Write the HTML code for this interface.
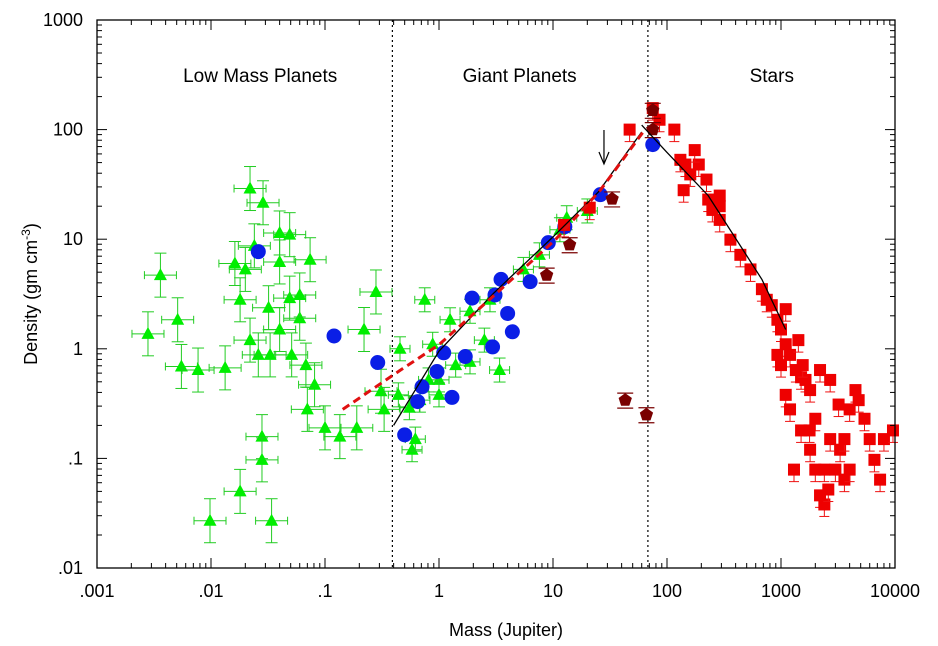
<!DOCTYPE html>
<html><head><meta charset="utf-8">
<style>
html,body{margin:0;padding:0;background:#fff;}
svg{display:block;font-family:"Liberation Sans",Arial,sans-serif;}
</style></head>
<body>
<svg id="chart" width="938" height="646" viewBox="0 0 938 646" xmlns="http://www.w3.org/2000/svg">
<rect x="0" y="0" width="938" height="646" fill="#fff"/>
<g id="grid"></g>
<g id="marks"></g>
<g id="ax"></g>
</svg>
<script>
const xTicks=[0.001,0.01,0.1,1,10,100,1000,10000];
const xTickLabels=[".001",".01",".1","1","10","100","1000","10000"];
const yTicks=[0.01,0.1,1,10,100,1000];
const yTickLabels=[".01",".1","1","10","100","1000"];
const regionLabels=["Low Mass Planets","Giant Planets","Stars"];
const regionLabelMass=[0.027,5.1,830];
const dividerMass=[0.39,68];

const greenMass=[0.0028,0.0036,0.0051,0.0055,0.0098,0.0077,0.0133,0.0162,0.022,0.018,0.028,0.028,0.034,0.0286,0.049,0.040,0.020,0.022,0.032,0.049,0.060,0.040,0.051,0.068,0.074,0.081,0.070,0.100,0.135,0.19,0.22,0.28,0.026,0.018,0.024,0.040,0.060,0.033,0.31,0.33,
0.455,0.44,0.55,0.75,0.88,1.0,1.25,1.87,2.5,2.8,3.4,0.58,0.62,0.68,0.81,1.4,1.0,5.5,7.6,11.5,13.2,20,1.87];
const greenDensity=[1.37,4.7,1.84,0.69,0.027,0.64,0.67,6.0,29,0.050,0.158,0.097,0.027,21.5,11,6.2,5.3,1.2,2.37,2.9,1.9,1.5,0.88,0.71,6.5,0.47,0.28,0.19,0.158,0.19,1.5,3.3,0.88,2.8,8.7,11.4,3.1,0.88,0.41,0.28,
1.0,0.38,0.29,2.8,1.1,0.52,1.84,2.2,1.2,2.8,0.64,0.12,0.15,0.34,0.52,0.71,0.38,5.3,7.2,12.2,15.7,18.1,0.76];

const blueMass=[0.026,0.12,0.29,3.5,3.1,6.3,4.0,4.4,2.95,1.7,1.1,0.96,0.71,0.65,1.3,0.50,1.95,9.1,12.7,26,75];
const blueDensity=[7.7,1.31,0.75,4.3,3.1,4.1,2.1,1.43,1.04,0.85,0.92,0.62,0.45,0.33,0.36,0.164,2.9,9.3,13,25.5,73];

const brownMass=[14,8.8,33,43,66,75,75];
const brownDensity=[8.9,4.7,23.3,0.34,0.25,100,150];

const redMass=[47,75,86,116,131,145,160,140,190,222,230,250,290,290,360,440,540,680,750,830,930,1000,1100,1200,1350,1500,1640,930,1000,1100,1200,1500,1800,2000,2200,2400,2600,3000,3300,3600,4000,4500,4800,5400,6000,6600,7400,8000,9600,1800,2200,2700,1300,2700,2000,1550,3200,1780,2400,4000,3600,1100,1420,290,175,21,12.5];
const redDensity=[100,157,123,100,53,48,39,28,48,35,23,18.5,25,20,9.9,7.2,5.3,3.5,2.8,2.5,1.84,1.5,1.1,0.88,0.64,0.55,0.52,0.88,0.71,0.38,0.28,0.18,0.12,0.079,0.046,0.038,0.052,0.079,0.12,0.064,0.28,0.42,0.34,0.23,0.15,0.097,0.064,0.15,0.18,0.42,0.64,0.52,0.079,0.15,0.23,0.71,0.31,0.18,0.079,0.079,0.15,2.3,1.2,15,65,19.4,13.5];

const fitPlanetMass=[0.4,1,3,10,25,60];
const fitPlanetDensity=[0.2,0.95,3.2,10.5,27,95];
const fitStarMass=[60,100,230,680,1100];
const fitStarDensity=[110,62,25,4.3,1.5];
const dashMass=[0.143,0.46,1,3.4,10.5,26,64];
const dashDensity=[0.28,0.64,1.09,3.4,9.9,28,100];
const arrowMass=[28];

const L=97,R=895,T=20,B=568;
const X=m=>L+(Math.log10(m)+3)*(R-L)/7;
const Y=d=>B-(Math.log10(d)+2)*(B-T)/5;
const NS="http://www.w3.org/2000/svg";
function mk(tag,attrs,parent){const e=document.createElementNS(NS,tag);for(const k in attrs)e.setAttribute(k,attrs[k]);parent.appendChild(e);return e;}
const marks=document.getElementById('marks'),ax=document.getElementById('ax'),grid=document.getElementById('grid');

dividerMass.forEach((m,i)=>{const l=mk('line',{x1:X(m),x2:X(m),y1:T,y2:B,stroke:'#000','stroke-width':1.2,'stroke-dasharray':'2,3'},grid);

});
regionLabels.forEach((t,i)=>{const e=mk('text',{x:X(regionLabelMass[i]),y:82,'text-anchor':'middle','font-size':19},grid);e.textContent=t;

});

function errbar(x,y,dx,dy,col,g){
 mk('line',{x1:x-dx,x2:x+dx,y1:y,y2:y,stroke:col,'stroke-width':1},g);
 mk('line',{x1:x,x2:x,y1:y-dy,y2:y+dy,stroke:col,'stroke-width':1},g);
 mk('line',{x1:x-dx,x2:x-dx,y1:y-4,y2:y+4,stroke:col,'stroke-width':1},g);
 mk('line',{x1:x+dx,x2:x+dx,y1:y-4,y2:y+4,stroke:col,'stroke-width':1},g);
 mk('line',{x1:x-6,x2:x+6,y1:y-dy,y2:y-dy,stroke:col,'stroke-width':1},g);
 mk('line',{x1:x-6,x2:x+6,y1:y+dy,y2:y+dy,stroke:col,'stroke-width':1},g);
}
greenMass.forEach((m,i)=>{const x=X(m),y=Y(greenDensity[i]);const g=mk('g',{},marks);
 
 
 const low=m<0.4;errbar(x,y,low?16:10,low?22:12,'#22cc22',g);
 mk('polygon',{points:`${x},${y-7} ${x-6.5},${y+5} ${x+6.5},${y+5}`,fill:'#00ee00'},g);});
blueMass.forEach((m,i)=>{const x=X(m),y=Y(blueDensity[i]);
 const c=mk('circle',{cx:x,cy:y,r:7.5,fill:'#0a1ee6'},marks);
 
 });
redMass.forEach((m,i)=>{const x=X(m),y=Y(redDensity[i]);const g=mk('g',{},marks);
 
 
 mk('line',{x1:x,x2:x,y1:y,y2:y+12,stroke:'#ee1111','stroke-width':1},g);
 mk('line',{x1:x-5,x2:x+5,y1:y+12,y2:y+12,stroke:'#ee1111','stroke-width':1},g);
 mk('rect',{x:x-6,y:y-6,width:12,height:12,fill:'#ee0000'},g);});
brownMass.forEach((m,i)=>{const x=X(m),y=Y(brownDensity[i]);const g=mk('g',{},marks);
 
 
 mk('line',{x1:x-8,x2:x+8,y1:y-7,y2:y-7,stroke:'#7a0000','stroke-width':1.2},g);
 mk('line',{x1:x-8,x2:x+8,y1:y+8,y2:y+8,stroke:'#7a0000','stroke-width':1.2},g);
 let p=[];for(let k=0;k<5;k++){const a=-Math.PI/2+k*2*Math.PI/5;p.push((x+7*Math.cos(a)).toFixed(1)+','+(y+7*Math.sin(a)).toFixed(1));}
 mk('polygon',{points:p.join(' '),fill:'#7a0000'},g);});
function poly(ms,ds,attrs,name){const pts=ms.map((m,i)=>X(m).toFixed(1)+','+Y(ds[i]).toFixed(1)).join(' ');
 const e=mk('polyline',Object.assign({points:pts,fill:'none'},attrs),marks);
 
 }
poly(fitPlanetMass,fitPlanetDensity,{stroke:'#000','stroke-width':1.3},'planet-fit-line');
poly(fitStarMass,fitStarDensity,{stroke:'#000','stroke-width':1.3},'star-fit-line');
poly(dashMass,dashDensity,{stroke:'#e01010','stroke-width':3,'stroke-dasharray':'8,5'},'model-dashed-line');
arrowMass.forEach(m=>{const x=X(m);const g=mk('g',{},marks);
 
 
 mk('line',{x1:x,x2:x,y1:130,y2:163,stroke:'#000','stroke-width':1.2},g);
 mk('polyline',{points:`${x-5},152 ${x},164 ${x+5},152`,fill:'none',stroke:'#000','stroke-width':1.2},g);});

const fr=mk('rect',{x:L,y:T,width:R-L,height:B-T,fill:'none',stroke:'#000','stroke-width':1.3},ax);


xTicks.forEach((t,i)=>{const x=X(t);
 mk('line',{x1:x,x2:x,y1:B,y2:B-10,stroke:'#000'},ax);mk('line',{x1:x,x2:x,y1:T,y2:T+10,stroke:'#000'},ax);
 if(i<xTicks.length-1)for(let k=2;k<10;k++){const xm=X(t*k);mk('line',{x1:xm,x2:xm,y1:B,y2:B-5,stroke:'#000'},ax);mk('line',{x1:xm,x2:xm,y1:T,y2:T+5,stroke:'#000'},ax);}
 const e=mk('text',{x:x,y:597,'text-anchor':'middle','font-size':18},ax);e.textContent=xTickLabels[i];
 
 });
yTicks.forEach((t,i)=>{const y=Y(t);
 mk('line',{x1:L,x2:L+10,y1:y,y2:y,stroke:'#000'},ax);mk('line',{x1:R,x2:R-10,y1:y,y2:y,stroke:'#000'},ax);
 if(i<yTicks.length-1)for(let k=2;k<10;k++){const ym=Y(t*k);mk('line',{x1:L,x2:L+5,y1:ym,y2:ym,stroke:'#000'},ax);mk('line',{x1:R,x2:R-5,y1:ym,y2:ym,stroke:'#000'},ax);}
 const e=mk('text',{x:83,y:y+6,'text-anchor':'end','font-size':18},ax);e.textContent=yTickLabels[i];
 
 });
const xt=mk('text',{x:506,y:636,'text-anchor':'middle','font-size':18},ax);xt.textContent='Mass (Jupiter)';


const yt=mk('text',{x:0,y:0,'text-anchor':'middle','font-size':18,transform:'translate(37,294) rotate(-90)'},ax);
yt.innerHTML='Density (gm cm<tspan dy="-7" font-size="12">-3</tspan><tspan dy="7">)</tspan>';


</script>
</body></html>
